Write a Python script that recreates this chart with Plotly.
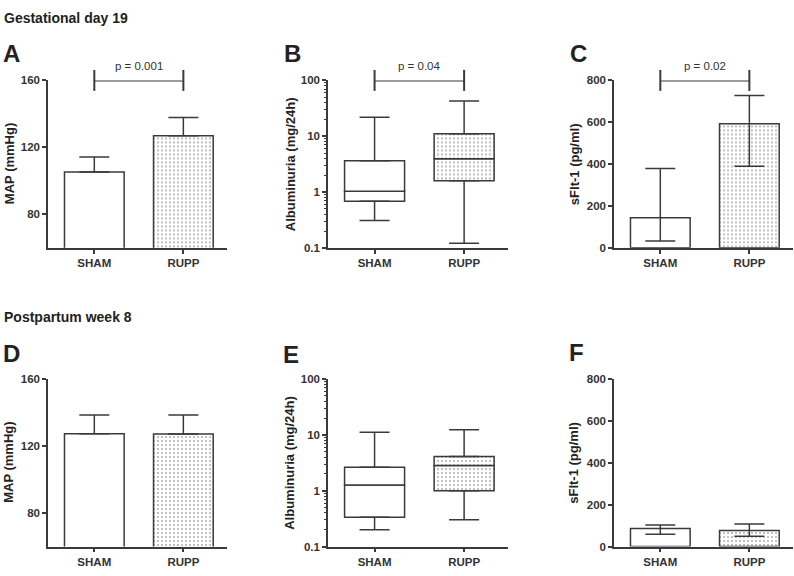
import math
import plotly.graph_objects as go
from plotly.subplots import make_subplots

# ---------------- data ----------------
groups = ["SHAM", "RUPP"]

# MAP (mmHg): mean and upward SD
map_gd19_mean = [105.3, 126.9]
map_gd19_sd = [9.0, 11.0]
map_pp8_mean = [127.4, 127.2]
map_pp8_sd = [11.2, 11.3]

# Albuminuria (mg/24h) box stats
alb_gd19_min = [0.31, 0.121]
alb_gd19_q1 = [0.686, 1.6]
alb_gd19_med = [1.03, 3.95]
alb_gd19_q3 = [3.64, 11.1]
alb_gd19_max = [21.8, 42.8]

alb_pp8_min = [0.20, 0.30]
alb_pp8_q1 = [0.333, 1.0]
alb_pp8_med = [1.26, 2.82]
alb_pp8_q3 = [2.63, 4.1]
alb_pp8_max = [11.2, 12.3]

# sFlt-1 (pg/ml): central value with lower/upper bounds
sflt_gd19_val = [144, 593]
sflt_gd19_low = [33, 390]
sflt_gd19_high = [379, 728]
sflt_pp8_val = [86, 77]
sflt_pp8_low = [59, 49]
sflt_pp8_high = [103, 108]

p_texts = ["p = 0.001", "p = 0.04", "p = 0.02"]
row_titles = ["Gestational day 19", "Postpartum week 8"]
panel_letters = ["A", "B", "C", "D", "E", "F"]
y_titles = ["MAP (mmHg)", "Albuminuria (mg/24h)", "sFlt-1 (pg/ml)"]

# ---------------- style ----------------
W, H = 794, 576
LC = "#3a3a3a"
TXT = "#222222"
FONT = "Liberation Sans"
BAR_W = 0.67
CAP = 15

xs = list(range(len(groups)))
patterns = ["", "."]
pattern = dict(shape=patterns, fgcolor="#555555", bgcolor="white", size=4, solidity=0.2)

fig = make_subplots(rows=2, cols=3)


def px2fx(p):
    return p / W


def px2fy(p):
    return 1 - p / H


x_dom_px = [(48, 227), (328, 508), (614, 793)]
y_dom_px = [(76, 247), (381, 552)]


def add_bar_panel(row, col, vals, up, down=None):
    arrminus = [0] * len(vals) if down is None else down
    fig.add_trace(go.Bar(
        x=xs, y=vals, width=BAR_W,
        marker=dict(color="white", line=dict(color=LC, width=1.5), pattern=pattern),
        error_y=dict(type="data", symmetric=False, array=up, arrayminus=arrminus,
                     width=CAP, thickness=1.5, color=LC),
        showlegend=False, hoverinfo="skip"), row=row, col=col)


def add_box_panel(row, col, mn, q1, med, q3, mx):
    fig.add_trace(go.Bar(
        x=xs, base=q1, y=[m - a for m, a in zip(med, q1)], width=BAR_W,
        marker=dict(color="white", line=dict(color=LC, width=1.5), pattern=pattern),
        showlegend=False, hoverinfo="skip"), row=row, col=col)
    fig.add_trace(go.Bar(
        x=xs, base=med, y=[b - m for b, m in zip(q3, med)], width=BAR_W,
        marker=dict(color="white", line=dict(color=LC, width=1.5), pattern=pattern),
        showlegend=False, hoverinfo="skip"), row=row, col=col)
    # upper whisker
    fig.add_trace(go.Scatter(
        x=xs, y=q3, mode="markers", marker=dict(size=1, color="rgba(0,0,0,0)"),
        error_y=dict(type="data", symmetric=False, array=[b - a for b, a in zip(mx, q3)],
                     arrayminus=[0] * len(xs), width=CAP, thickness=1.5, color=LC),
        showlegend=False, hoverinfo="skip"), row=row, col=col)
    # lower whisker
    fig.add_trace(go.Scatter(
        x=xs, y=q1, mode="markers", marker=dict(size=1, color="rgba(0,0,0,0)"),
        error_y=dict(type="data", symmetric=False, array=[0] * len(xs),
                     arrayminus=[a - b for a, b in zip(q1, mn)], width=CAP, thickness=1.5, color=LC),
        showlegend=False, hoverinfo="skip"), row=row, col=col)


def add_bracket(row, col, ytop, text, ylog=False):
    fig.add_trace(go.Scatter(
        x=[xs[0], xs[1]], y=[ytop, ytop], mode="lines+markers", cliponaxis=False,
        line=dict(color=LC, width=2),
        marker=dict(symbol="line-ns", size=15, line=dict(color=LC, width=2)),
        showlegend=False, hoverinfo="skip"), row=row, col=col)
    idx = (row - 1) * 3 + col
    fig.add_annotation(x=(xs[0] + xs[1]) / 2, y=(math.log10(ytop) if ylog else ytop),
                       xref=f"x{idx if idx > 1 else ''}", yref=f"y{idx if idx > 1 else ''}",
                       text=text, showarrow=False, yanchor="bottom", yshift=6,
                       font=dict(family=FONT, size=11.5, color="#333333"))


# Row 1
add_bar_panel(1, 1, map_gd19_mean, map_gd19_sd)
add_bracket(1, 1, 160, p_texts[0])
add_box_panel(1, 2, alb_gd19_min, alb_gd19_q1, alb_gd19_med, alb_gd19_q3, alb_gd19_max)
add_bracket(1, 2, 100, p_texts[1], ylog=True)
add_bar_panel(1, 3, sflt_gd19_val,
              [h - v for h, v in zip(sflt_gd19_high, sflt_gd19_val)],
              [v - l for v, l in zip(sflt_gd19_val, sflt_gd19_low)])
add_bracket(1, 3, 800, p_texts[2])

# Row 2
add_bar_panel(2, 1, map_pp8_mean, map_pp8_sd)
add_box_panel(2, 2, alb_pp8_min, alb_pp8_q1, alb_pp8_med, alb_pp8_q3, alb_pp8_max)
add_bar_panel(2, 3, sflt_pp8_val,
              [h - v for h, v in zip(sflt_pp8_high, sflt_pp8_val)],
              [v - l for v, l in zip(sflt_pp8_val, sflt_pp8_low)])

tickfont = dict(family=FONT, size=11.5, color="#333333", weight="bold")
common_axis = dict(showline=True, linecolor=LC, linewidth=1.5, ticks="outside", ticklen=4,
                   tickwidth=1.5, tickcolor=LC, showgrid=False, zeroline=False, tickfont=tickfont)

for r in (1, 2):
    for c in (1, 2, 3):
        idx = (r - 1) * 3 + c
        xd = x_dom_px[c - 1]
        yd = y_dom_px[r - 1]
        xa = dict(common_axis, domain=[px2fx(xd[0]), px2fx(xd[1])], range=[-0.52, 1.49],
                  tickvals=xs, ticktext=groups)
        if c == 1:
            ya = dict(common_axis, range=[60, 160], tickvals=[80, 120, 160])
        elif c == 2:
            ya = dict(common_axis, type="log", range=[-1, 2], tickvals=[0.1, 1, 10, 100],
                      ticktext=["0.1", "1", "10", "100"],
                      minor=dict(ticks="outside", ticklen=2.5, tickwidth=1, tickcolor=LC, dtick="D1"))
        else:
            ya = dict(common_axis, range=[0, 800], tickvals=[0, 200, 400, 600, 800])
        ya["domain"] = [px2fy(yd[1]), px2fy(yd[0])]
        fig.layout[f"xaxis{idx if idx > 1 else ''}"].update(xa)
        fig.layout[f"yaxis{idx if idx > 1 else ''}"].update(ya)

# Row titles
for txt, ypx in zip(row_titles, [12, 318]):
    fig.add_annotation(x=px2fx(2), y=px2fy(ypx), xref="paper", yref="paper", text=txt,
                       showarrow=False, xanchor="left", yanchor="middle",
                       font=dict(family=FONT, size=14, color=TXT, weight="bold"))

# Panel letters
letter_pos = [(1, 48), (282, 48), (568, 48), (1, 355), (281, 356), (567, 354)]
for L, (xp, yp) in zip(panel_letters, letter_pos):
    fig.add_annotation(x=px2fx(xp), y=px2fy(yp), xref="paper", yref="paper", text=L,
                       showarrow=False, xanchor="left", yanchor="middle",
                       font=dict(family=FONT, size=24, color=TXT, weight="bold"))

# Y-axis titles
ytitle_x = [9, 290, 574]
for r in (1, 2):
    yd = y_dom_px[r - 1]
    for c in (1, 2, 3):
        fig.add_annotation(x=px2fx(ytitle_x[c - 1]), y=px2fy((yd[0] + yd[1]) / 2),
                           xref="paper", yref="paper", text=y_titles[c - 1], textangle=-90,
                           showarrow=False, xanchor="center", yanchor="middle",
                           font=dict(family=FONT, size=13, color=TXT, weight="bold"))

fig.update_layout(width=W, height=H, margin=dict(l=0, r=0, t=0, b=0),
                  paper_bgcolor="white", plot_bgcolor="white", barmode="overlay",
                  font=dict(family=FONT))

fig.write_html("out.html", config={"displayModeBar": False},
               post_script="document.body.style.margin='0';document.body.style.padding='0';")
